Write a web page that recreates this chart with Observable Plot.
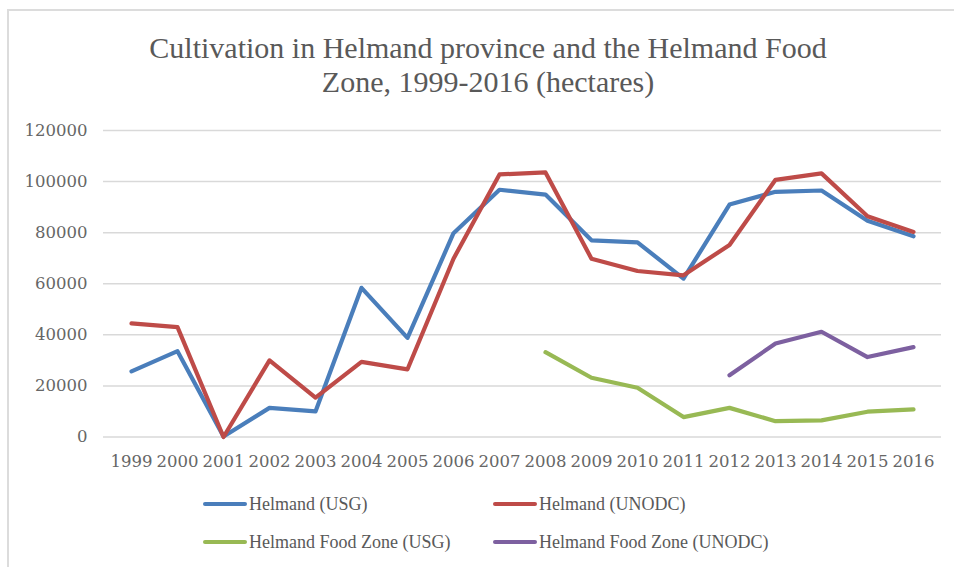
<!DOCTYPE html>
<html>
<head>
<meta charset="utf-8">
<script src="https://cdn.jsdelivr.net/npm/d3@7"></script>
<script src="https://cdn.jsdelivr.net/npm/@observablehq/plot@0.6"></script>
<style>
  html, body { margin: 0; padding: 0; background: #fff; }
  body { width: 954px; height: 567px; overflow: hidden; position: relative; font-family: "Liberation Serif", serif; }
  #frame { position: absolute; left: 7px; top: 9px; width: 1000px; height: 620px; border-left: 2px solid #dcdcdc; border-top: 2px solid #dcdcdc; }
  #title { position: absolute; left: 0; top: 31px; width: 976px; text-align: center; font-size: 30px; line-height: 34px; color: #595959; }
  #chart { position: absolute; left: 0; top: 110px; }
  .leg { position: absolute; display: flex; align-items: center; font-size: 18px; color: #595959; white-space: nowrap; }
  .sw { width: 44px; height: 4px; border-radius: 2px; margin-right: 2px; }
</style>
</head>
<body>
<div id="frame"></div>
<div id="title">Cultivation in Helmand province and the Helmand Food<br>Zone, 1999-2016 (hectares)</div>
<div id="chart"></div>
<div id="legend"></div>
<script>
const years = [1999, 2000, 2001, 2002, 2003, 2004, 2005, 2006, 2007, 2008, 2009, 2010, 2011, 2012, 2013, 2014, 2015, 2016];
const helmandUSG   = [25700, 33600, 200, 11400, 10000, 58400, 38800, 79800, 96800, 94900, 77000, 76200, 62000, 91000, 96000, 96500, 84700, 78600];
const helmandUNODC = [44500, 43000, 0, 30000, 15400, 29400, 26500, 69800, 102800, 103600, 69800, 65000, 63300, 75200, 100700, 103200, 86400, 80300];
const foodZoneUSG   = [null, null, null, null, null, null, null, null, null, 33200, 23200, 19300, 7800, 11400, 6200, 6500, 9900, 10800];
const foodZoneUNODC = [null, null, null, null, null, null, null, null, null, null, null, null, null, 24200, 36600, 41200, 31300, 35200];
const seriesNames = ["Helmand (USG)", "Helmand (UNODC)", "Helmand Food Zone (USG)", "Helmand Food Zone (UNODC)"];
const seriesColors = ["#4a7ebb", "#be4b48", "#98b954", "#7d60a0"];
const yTicks = [0, 20000, 40000, 60000, 80000, 100000, 120000];

const allSeries = [helmandUSG, helmandUNODC, foodZoneUSG, foodZoneUNODC];
const rows = [];
allSeries.forEach((vals, si) => {
  vals.forEach((v, i) => {
    if (v !== null) rows.push({ year: years[i], value: v, series: seriesNames[si] });
  });
});

const plot = Plot.plot({
  width: 954,
  height: 370,
  marginTop: 20,
  marginBottom: 43.5,
  marginLeft: 103,
  marginRight: 13,
  style: { fontFamily: "DejaVu Serif, serif", fontSize: "16.5px", color: "#666666", background: "transparent" },
  x: { type: "point", domain: years, padding: 0.5, label: null, tickSize: 0, tickPadding: 18, tickFormat: d => String(d) },
  y: { domain: [0, 120000], ticks: yTicks, label: null, tickSize: 0, tickPadding: 16, tickFormat: d => String(d) },
  color: { domain: seriesNames, range: seriesColors },
  marks: [
    Plot.gridY(yTicks, { stroke: "#d9d9d9", strokeOpacity: 1, strokeWidth: 1.5 }),
    Plot.line(rows, { x: "year", y: "value", z: "series", stroke: "series", strokeWidth: 4.2, strokeLinejoin: "round", strokeLinecap: "round" })
  ]
});
document.getElementById("chart").appendChild(plot);

const legendPos = [[203, 504], [493, 504], [203, 542], [493, 542]];
const legend = document.getElementById("legend");
seriesNames.forEach((name, i) => {
  const item = document.createElement("div");
  item.className = "leg";
  item.style.left = legendPos[i][0] + "px";
  item.style.top = (legendPos[i][1] - 11) + "px";
  item.style.height = "22px";
  const sw = document.createElement("div");
  sw.className = "sw";
  sw.style.background = seriesColors[i];
  const tx = document.createElement("span");
  tx.textContent = name;
  item.appendChild(sw);
  item.appendChild(tx);
  legend.appendChild(item);
});
</script>
</body>
</html>
